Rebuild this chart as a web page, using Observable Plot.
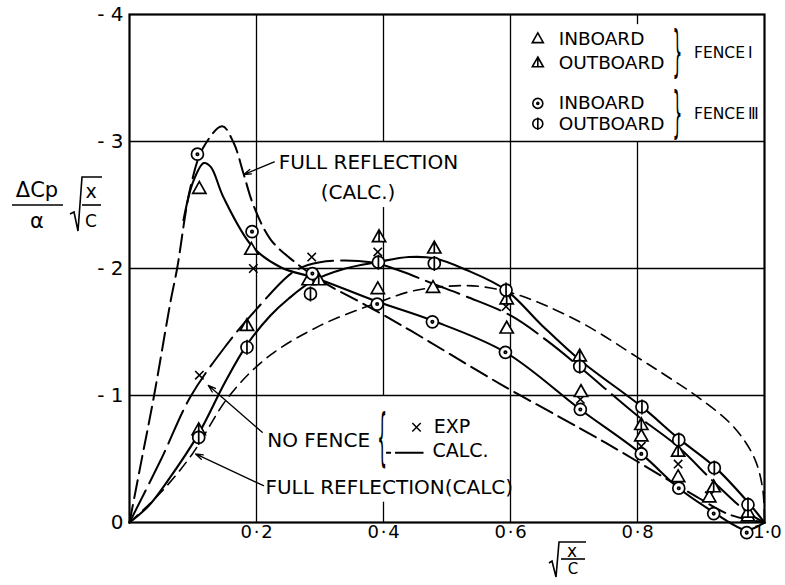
<!DOCTYPE html>
<html><head><meta charset="utf-8">
<script src="https://cdn.jsdelivr.net/npm/d3@7"></script>
<script src="https://cdn.jsdelivr.net/npm/@observablehq/plot@0.6"></script>
<style>
body{margin:0;background:#fff;}
#chart{width:785px;height:585px;}
</style></head><body><div id="chart"></div><script>
// ---------- axis ticks ----------
const xTicks = [0.2, 0.4, 0.6, 0.8, 1.0];
const xTickLabels = ["0\u200a·\u200a2", "0\u200a·\u200a4", "0\u200a·\u200a6", "0\u200a·\u200a8", "1·0"];
const yTicks = [0, -1, -2, -3, -4];
const yTickLabels = ["0", "- 1", "- 2", "- 3", "- 4"];
const gridY = [-1, -2, -3];
const gridSegX  = [0.2, 0.4, 0.4, 0.4, 0.6, 0.8, 0.8];
const gridSegY1 = [0, 0, -1, -3, 0, 0, -3.92];
const gridSegY2 = [-4, -0.16, -2.48, -4, -4, -3, -4];

// ---------- calculated curves ----------
const fullReflAX = [0,0.017,0.038,0.065,0.075,0.096,0.116,0.146,0.164,0.18,0.195,0.222,0.258,0.306,0.369,0.443,0.584,0.71,0.773,0.84,0.894,0.946,1.0];
const fullReflAY = [0,-0.44,-0.98,-1.75,-2.0,-2.64,-2.95,-3.12,-2.99,-2.74,-2.5,-2.23,-2.06,-1.89,-1.72,-1.51,-1.09,-0.74,-0.56,-0.36,-0.2,-0.06,0];
const fullReflBX = [0,0.05,0.099,0.156,0.217,0.3,0.39,0.443,0.5,0.55,0.6,0.65,0.72,0.8,0.85,0.9,0.95,0.983,0.997,1.0];
const fullReflBY = [0,-0.24,-0.54,-0.99,-1.3,-1.55,-1.73,-1.82,-1.86,-1.86,-1.81,-1.72,-1.55,-1.3,-1.14,-0.97,-0.76,-0.52,-0.27,0];
const noFenceX = [0,0.05,0.096,0.15,0.2,0.26,0.3,0.38,0.427,0.478,0.53,0.6,0.658,0.71,0.8,0.863,0.92,0.973,1.0];
const noFenceY = [0,-0.5,-0.99,-1.38,-1.68,-1.98,-2.05,-2.05,-1.98,-1.88,-1.78,-1.63,-1.43,-1.22,-0.84,-0.6,-0.32,-0.08,0];

// ---------- faired experimental curves ----------
const inbIIICurveX = [0.085,0.1,0.117,0.128,0.148,0.194,0.238,0.296,0.39,0.477,0.592,0.71,0.806,0.865,0.92,0.945,0.972,1.0];
const inbIIICurveY = [-2.38,-2.68,-2.83,-2.8,-2.56,-2.17,-2.01,-1.92,-1.74,-1.59,-1.34,-0.89,-0.54,-0.27,-0.08,0,0.06,0];
const outIIICurveX = [0,0.03,0.059,0.109,0.15,0.185,0.222,0.25,0.288,0.34,0.39,0.44,0.48,0.53,0.593,0.65,0.709,0.807,0.865,0.921,0.974,1.0];
const outIIICurveY = [0,-0.13,-0.32,-0.7,-1.1,-1.4,-1.63,-1.76,-1.9,-2.0,-2.05,-2.09,-2.08,-1.99,-1.83,-1.55,-1.28,-0.91,-0.66,-0.44,-0.16,0];

// ---------- experimental points ----------
const fIInbX = [0.110,0.192,0.282,0.391,0.478,0.594,0.711,0.806,0.864,0.913,0.974];
const fIInbY = [-2.63,-2.15,-1.91,-1.84,-1.85,-1.53,-1.03,-0.68,-0.36,-0.20,-0.05];
const fIOutX = [0.109,0.185,0.298,0.393,0.480,0.594,0.709,0.806,0.864,0.920,0.974];
const fIOutY = [-0.73,-1.55,-1.91,-2.25,-2.16,-1.76,-1.31,-0.77,-0.56,-0.28,-0.08];
const fIIIInbX = [0.107,0.193,0.288,0.390,0.477,0.592,0.710,0.806,0.865,0.920,0.972];
const fIIIInbY = [-2.90,-2.29,-1.96,-1.72,-1.58,-1.34,-0.89,-0.54,-0.27,-0.07,0.08];
const fIIIOutX = [0.109,0.185,0.285,0.392,0.480,0.593,0.709,0.807,0.865,0.921,0.974];
const fIIIOutY = [-0.67,-1.38,-1.80,-2.05,-2.04,-1.83,-1.23,-0.91,-0.65,-0.43,-0.14];
const noFenceExpX = [0.110,0.195,0.287,0.391,0.593,0.710,0.806,0.864,0.913];
const noFenceExpY = [-1.16,-2.00,-2.09,-2.13,-1.70,-0.97,-0.60,-0.46,-0.21];

// ---------- legend / annotations ----------
const legendLabels = ["INBOARD", "OUTBOARD", "INBOARD", "OUTBOARD"];
const legendY = [-3.81, -3.62, -3.30, -3.14];
const legendSymX = 0.643, legendTextX = 0.676;
const fenceLabels = ["FENCE\u2009Ⅰ", "FENCE\u2009Ⅲ"];
const fenceY = [-3.70, -3.22];
const braceText = ["}", "}", "{"];
const braceX = [0.863, 0.863, 0.398];
const braceY = [-3.71, -3.23, -0.67];
const annoText = ["FULL REFLECTION", "(CALC.)", "NO FENCE", "EXP", "CALC.", "FULL REFLECTION(CALC)"];
const annoX = [0.235, 0.301, 0.217, 0.479, 0.477, 0.214];
const annoY = [-2.83, -2.60, -0.646, -0.75, -0.567, -0.276];
const annoSize = [20, 20, 20, 19, 19, 20];
const arrowX1 = [0.228, 0.209, 0.211], arrowY1 = [-2.84, -0.71, -0.29];
const arrowX2 = [0.180, 0.124, 0.104], arrowY2 = [-2.74, -1.08, -0.54];

const zip = (xs, ys) => xs.map((x, i) => ({x, y: ys[i]}));

// ---------- custom marker symbols ----------
const R = (s) => Math.sqrt(s / Math.PI);
const symTri = {draw(c, s) {const r = R(s); c.moveTo(0, -r*1.15); c.lineTo(r*1.1, r*0.8); c.lineTo(-r*1.1, r*0.8); c.closePath();}};
const symTriBar = {draw(c, s) {const r = R(s); c.moveTo(0, -r*1.15); c.lineTo(r*1.1, r*0.8); c.lineTo(-r*1.1, r*0.8); c.closePath(); c.moveTo(0, -r*1.15); c.lineTo(0, r*0.8);}};
const symCircDot = {draw(c, s) {const r = R(s); c.moveTo(r, 0); c.arc(0, 0, r, 0, 2*Math.PI); c.moveTo(r*0.2, 0); c.arc(0, 0, r*0.2, 0, 2*Math.PI);}};
const symCircBar = {draw(c, s) {const r = R(s); c.moveTo(r, 0); c.arc(0, 0, r, 0, 2*Math.PI); c.moveTo(0, -r*1.25); c.lineTo(0, r*1.25);}};
const symCross = {draw(c, s) {const r = R(s)*0.7; c.moveTo(-r, -r); c.lineTo(r, r); c.moveTo(-r, r); c.lineTo(r, -r);}};

const dotOpts = (sym) => ({x: "x", y: "y", symbol: sym, r: 6, stroke: "#000", strokeWidth: 1.7, fill: "white"});
const lineOpts = (dash, w) => ({x: "x", y: "y", curve: "catmull-rom", stroke: "#000", strokeWidth: w, strokeDasharray: dash, fill: "none"});

const gridSeg = gridSegX.map((x, i) => ({x, y1: gridSegY1[i], y2: gridSegY2[i]}));
const legendSyms = [symTri, symTriBar, symCircDot, symCircBar];

const svg = Plot.plot({
  width: 785, height: 585,
  marginLeft: 129, marginRight: 21, marginTop: 14, marginBottom: 63,
  style: {fontFamily: "DejaVu Sans", background: "white", overflow: "visible"},
  x: {domain: [0, 1], axis: null},
  y: {domain: [0, -4], axis: null},
  marks: [
    Plot.ruleY(gridY, {stroke: "#000", strokeWidth: 1.3}),
    Plot.ruleX(gridSeg, {x: "x", y1: "y1", y2: "y2", stroke: "#000", strokeWidth: 1.3}),
    Plot.frame({stroke: "#000", strokeWidth: 2.2}),
    Plot.line(zip(fullReflAX, fullReflAY), lineOpts("18,7", 2)),
    Plot.line(zip(fullReflBX, fullReflBY), lineOpts("11,7", 1.6)),
    Plot.line(zip(noFenceX, noFenceY), lineOpts("36,8", 2)),
    Plot.line(zip(inbIIICurveX, inbIIICurveY), lineOpts(null, 2.1)),
    Plot.line(zip(outIIICurveX, outIIICurveY), lineOpts(null, 2.1)),
    Plot.dot(zip(noFenceExpX, noFenceExpY), {x: "x", y: "y", symbol: symCross, r: 6, stroke: "#000", strokeWidth: 1.6}),
    Plot.dot(zip(fIInbX, fIInbY), dotOpts(symTri)),
    Plot.dot(zip(fIOutX, fIOutY), dotOpts(symTriBar)),
    Plot.dot(zip(fIIIInbX, fIIIInbY), dotOpts(symCircDot)),
    Plot.dot(zip(fIIIOutX, fIIIOutY), dotOpts(symCircBar)),
    // tick labels
    Plot.text(yTicks, {y: (d) => d, frameAnchor: "left", dx: -6, textAnchor: "end", text: (d, i) => yTickLabels[i], fontSize: 20}),
    Plot.text(xTicks.slice(0, 4), {x: (d) => d, frameAnchor: "bottom", dy: 15, text: (d, i) => xTickLabels[i], fontSize: 18}),
    Plot.text(xTicks.slice(4), {x: (d) => d, frameAnchor: "bottom", dy: 15, dx: 3, text: (d, i) => xTickLabels[i + 4], fontSize: 18}),
    // legend
    ...legendSyms.map((s, i) => Plot.dot([legendY[i]], {x: () => legendSymX, y: (d) => d, symbol: s, r: 5, stroke: "#000", strokeWidth: 1.6, fill: "white"})),
    Plot.text(legendY, {x: () => legendTextX, y: (d) => d, text: (d, i) => legendLabels[i], textAnchor: "start", fontSize: 18.5}),
    Plot.text(fenceY, {x: () => 0.889, y: (d) => d, text: (d, i) => fenceLabels[i], textAnchor: "start", fontSize: 15.5}),
    Plot.text(braceY, {x: (d, i) => braceX[i], y: (d) => d, text: (d, i) => braceText[i], fontSize: 28}),
    // annotations
    Plot.text(annoY, {x: (d, i) => annoX[i], y: (d) => d, text: (d, i) => annoText[i], textAnchor: "start", fontSize: (d, i) => annoSize[i]}),
    Plot.dot([-0.75], {x: () => 0.452, y: (d) => d, symbol: symCross, r: 6, stroke: "#000", strokeWidth: 1.5}),
    Plot.link([-0.55], {x1: () => 0.404, x2: () => 0.463, y1: (d) => d, y2: (d) => d, stroke: "#000", strokeWidth: 2, strokeDasharray: "5,4,40"}),
    Plot.arrow(arrowX1, {x1: (d) => d, y1: (d, i) => arrowY1[i], x2: (d, i) => arrowX2[i], y2: (d, i) => arrowY2[i], stroke: "#000", strokeWidth: 1.3, headLength: 9, headAngle: 35})
  ]
});

document.getElementById("chart").appendChild(svg);

// stretch braces vertically
d3.select(svg).selectAll("text").each(function () {
  const t = this.textContent;
  if (t === "}" || t === "{") {
    const b = this.getBBox();
    const cx = b.x + b.width / 2, cy = b.y + b.height / 2;
    const k = t === "}" ? 2.0 : 2.25;
    const tr = this.getAttribute("transform") || "";
    this.setAttribute("transform", `${tr} translate(${cx},${cy}) scale(0.55,${k}) translate(${-cx},${-cy})`);
  }
});

// typeset axis titles
const g = d3.select(svg).append("g").attr("font-family", "DejaVu Sans").attr("fill", "#000");
g.append("text").attr("x", 37).attr("y", 190).attr("text-anchor", "middle").attr("dominant-baseline", "central").attr("font-size", 21).text("ΔCp");
g.append("line").attr("x1", 12).attr("x2", 63).attr("y1", 205).attr("y2", 205).attr("stroke", "#000").attr("stroke-width", 1.6);
g.append("text").attr("x", 37).attr("y", 221).attr("text-anchor", "middle").attr("dominant-baseline", "central").attr("font-size", 21).text("α");
g.append("path").attr("d", "M70,214 L74,212 L78,231 L82,177 L102,177").attr("fill", "none").attr("stroke", "#000").attr("stroke-width", 1.6);
g.append("text").attr("x", 91).attr("y", 191).attr("text-anchor", "middle").attr("dominant-baseline", "central").attr("font-size", 19).text("x");
g.append("line").attr("x1", 82).attr("x2", 101).attr("y1", 205).attr("y2", 205).attr("stroke", "#000").attr("stroke-width", 1.6);
g.append("text").attr("x", 91).attr("y", 221).attr("text-anchor", "middle").attr("dominant-baseline", "central").attr("font-size", 17).text("C");

g.append("path").attr("d", "M549,563 L552,561 L556,577 L559,542 L586,542").attr("fill", "none").attr("stroke", "#000").attr("stroke-width", 1.6);
g.append("text").attr("x", 572).attr("y", 551).attr("text-anchor", "middle").attr("dominant-baseline", "central").attr("font-size", 17).text("x");
g.append("line").attr("x1", 561).attr("x2", 585).attr("y1", 559).attr("y2", 559).attr("stroke", "#000").attr("stroke-width", 1.6);
g.append("text").attr("x", 573).attr("y", 569).attr("text-anchor", "middle").attr("dominant-baseline", "central").attr("font-size", 15).text("C");
</script></body></html>
